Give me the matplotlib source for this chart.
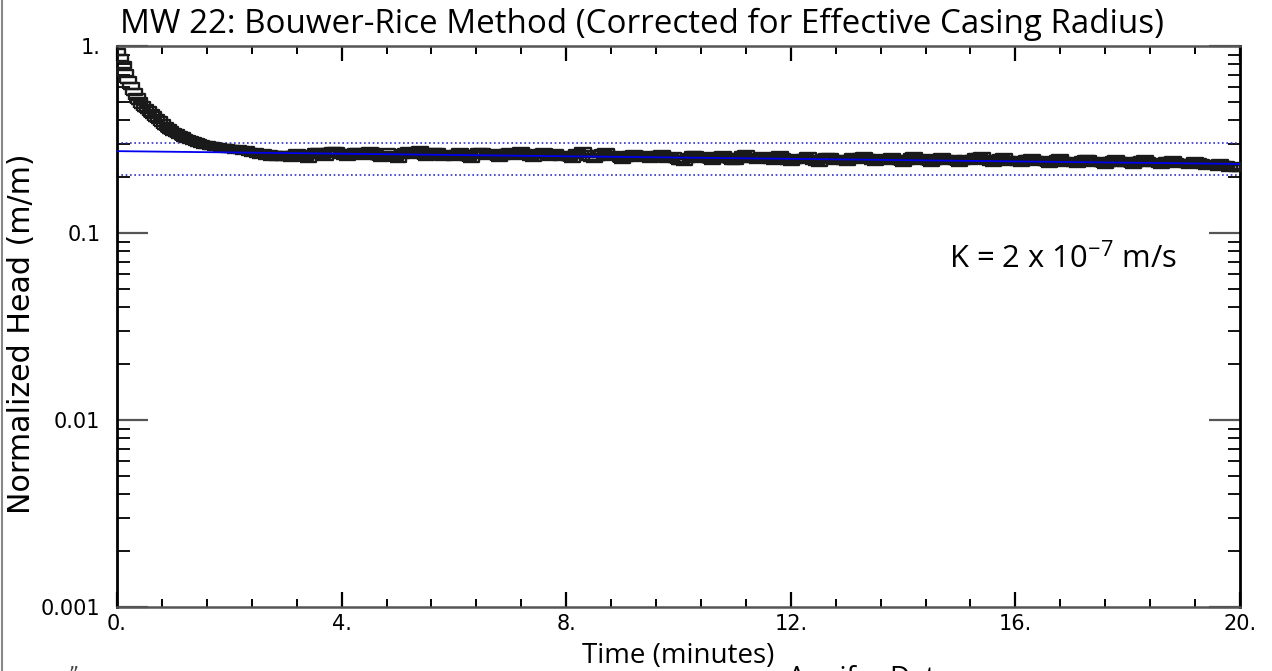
import matplotlib
matplotlib.use("Agg")
import matplotlib.pyplot as plt
from matplotlib.lines import Line2D
from matplotlib.ticker import MultipleLocator, LogLocator, NullFormatter
import numpy as np

# ---------------- data ----------------
# early record, sampled every 0.05 min (0.00 .. 2.95)
time_early = np.arange(60) * 0.05
head_early = [
    0.930, 0.860, 0.790, 0.720, 0.660, 0.610, 0.565, 0.535, 0.505, 0.485,
    0.465, 0.452, 0.440, 0.425, 0.410, 0.400, 0.386, 0.375, 0.365, 0.356,
    0.348, 0.341, 0.335, 0.330, 0.324, 0.319, 0.314, 0.309, 0.305, 0.302,
    0.299, 0.297, 0.295, 0.293, 0.291, 0.289, 0.287, 0.286, 0.285, 0.284,
    0.282, 0.280, 0.278, 0.281, 0.277, 0.274, 0.278, 0.272, 0.268, 0.271,
    0.266, 0.262, 0.268, 0.259, 0.264, 0.256, 0.262, 0.254, 0.261, 0.255,
]
# later record, sampled every 0.1 min (3.0 .. 20.0)
time_late = 3.0 + np.arange(171) * 0.1
head_late = [
    0.262, 0.252, 0.268, 0.258, 0.250, 0.266, 0.272, 0.256, 0.270, 0.276,
    0.262, 0.254, 0.268, 0.272, 0.258, 0.276, 0.266, 0.252, 0.270, 0.256,
    0.250, 0.268, 0.274, 0.262, 0.278, 0.256, 0.268, 0.272, 0.254, 0.266,
    0.256, 0.270, 0.262, 0.250, 0.266, 0.272, 0.258, 0.268, 0.252, 0.264,
    0.270, 0.258, 0.276, 0.262, 0.252, 0.266, 0.272, 0.256, 0.268, 0.254,
    0.262, 0.250, 0.268, 0.274, 0.256, 0.248, 0.264, 0.270, 0.254, 0.262,
    0.246, 0.258, 0.266, 0.252, 0.262, 0.248, 0.256, 0.264, 0.250, 0.258,
    0.244, 0.240, 0.256, 0.262, 0.250, 0.258, 0.244, 0.254, 0.262, 0.248,
    0.242, 0.256, 0.264, 0.250, 0.246, 0.258, 0.252, 0.242, 0.262, 0.248,
    0.240, 0.252, 0.246, 0.258, 0.244, 0.238, 0.252, 0.256, 0.242, 0.250,
    0.240, 0.254, 0.246, 0.258, 0.248, 0.240, 0.252, 0.244, 0.256, 0.246,
    0.238, 0.250, 0.258, 0.244, 0.252, 0.238, 0.246, 0.256, 0.242, 0.250,
    0.236, 0.248, 0.242, 0.254, 0.258, 0.244, 0.238, 0.250, 0.254, 0.240,
    0.246, 0.236, 0.248, 0.252, 0.240, 0.246, 0.234, 0.244, 0.252, 0.238,
    0.244, 0.234, 0.246, 0.250, 0.238, 0.244, 0.232, 0.242, 0.248, 0.236,
    0.242, 0.232, 0.244, 0.248, 0.236, 0.240, 0.230, 0.242, 0.246, 0.234,
    0.238, 0.230, 0.242, 0.236, 0.228, 0.234, 0.226, 0.232, 0.224, 0.228,
    0.222,
]
# intermediate readings, every 0.1 min (3.05 .. 19.95)
time_mid = 3.05 + np.arange(170) * 0.1
head_mid = [
    0.256, 0.262, 0.262, 0.254, 0.260, 0.270, 0.262, 0.264, 0.274, 0.268,
    0.258, 0.262, 0.270, 0.264, 0.268, 0.270, 0.258, 0.262, 0.262, 0.254,
    0.260, 0.272, 0.266, 0.270, 0.266, 0.262, 0.272, 0.262, 0.262, 0.260,
    0.264, 0.266, 0.256, 0.260, 0.270, 0.264, 0.264, 0.260, 0.258, 0.268,
    0.264, 0.268, 0.268, 0.256, 0.260, 0.268, 0.262, 0.262, 0.260, 0.258,
    0.256, 0.260, 0.264, 0.264, 0.252, 0.256, 0.268, 0.260, 0.258, 0.252,
    0.252, 0.262, 0.260, 0.258, 0.256, 0.252, 0.260, 0.258, 0.254, 0.250,
    0.242, 0.248, 0.260, 0.256, 0.254, 0.250, 0.250, 0.258, 0.254, 0.244,
    0.250, 0.260, 0.256, 0.248, 0.252, 0.256, 0.246, 0.252, 0.254, 0.244,
    0.246, 0.250, 0.252, 0.250, 0.240, 0.246, 0.254, 0.248, 0.246, 0.244,
    0.248, 0.250, 0.254, 0.252, 0.244, 0.246, 0.248, 0.250, 0.250, 0.242,
    0.244, 0.254, 0.250, 0.248, 0.244, 0.242, 0.250, 0.248, 0.246, 0.244,
    0.242, 0.246, 0.248, 0.256, 0.250, 0.240, 0.244, 0.252, 0.246, 0.242,
    0.240, 0.242, 0.250, 0.246, 0.242, 0.240, 0.240, 0.250, 0.244, 0.240,
    0.238, 0.240, 0.248, 0.244, 0.240, 0.236, 0.236, 0.246, 0.242, 0.238,
    0.236, 0.238, 0.246, 0.242, 0.238, 0.234, 0.236, 0.244, 0.240, 0.236,
    0.234, 0.236, 0.240, 0.232, 0.230, 0.230, 0.236, 0.230, 0.226, 0.224,
]
# fitted straight line (semi-log)
fit_time = [0.0, 20.0]
fit_head = [0.274, 0.234]
# reference bands
band_upper = 0.303
band_lower = 0.204

x_ticks = [0, 4, 8, 12, 16, 20]
x_tick_labels = ["0.", "4.", "8.", "12.", "16.", "20."]
y_ticks = [0.001, 0.01, 0.1, 1.0]
y_tick_labels = ["0.001", "0.01", "0.1", "1."]

title_text = "MW 22: Bouwer-Rice Method (Corrected for Effective Casing Radius)"
xlabel_text = "Time (minutes)"
ylabel_text = "Normalized Head (m/m)"
k_text = r"K = 2 x 10$^{\mathregular{-7}}$ m/s"
extra_text = "Aquifer Data"
corner_text = "\u201d"

# ---------------- figure ----------------
W, H = 1272, 671
fig = plt.figure(figsize=(W / 100, H / 100), dpi=100)
fig.patch.set_facecolor("white")

L, R, T, B = 117, 1240, 46, 607
ax = fig.add_axes([L / W, 1 - B / H, (R - L) / W, (B - T) / H])

rect = [(-1, -0.4), (1, -0.4), (1, 0.4), (-1, 0.4), (-1, -0.4)]
times = np.concatenate([time_early, time_late, time_mid])
heads = np.concatenate([head_early, head_late, head_mid])
order = np.argsort(times)
ax.plot(times[order], heads[order], linestyle="none", marker=rect, markersize=12,
        markerfacecolor="none", markeredgecolor="#1a1a1a", markeredgewidth=1.7,
        zorder=3)
ax.plot(fit_time, fit_head, color="#0000ee", linewidth=1.3, zorder=4)
ax.axhline(band_upper, color="#3030d0", linewidth=1.2, linestyle=(0, (1, 1.6)), zorder=2)
ax.axhline(band_lower, color="#3030d0", linewidth=1.2, linestyle=(0, (1, 1.6)), zorder=2)

ax.set_yscale("log")
ax.set_xlim(0, 20)
ax.set_ylim(0.001, 1)

ax.set_xticks(x_ticks)
ax.set_xticklabels(x_tick_labels)
ax.xaxis.set_minor_locator(MultipleLocator(0.8))
ax.set_yticks(y_ticks)
ax.set_yticklabels(y_tick_labels)
ax.yaxis.set_minor_locator(LogLocator(base=10, subs=np.arange(2, 10)))
ax.yaxis.set_minor_formatter(NullFormatter())

for lab in ax.get_xticklabels() + ax.get_yticklabels():
    lab.set_fontfamily("DejaVu Sans")
    lab.set_fontsize(15)

ax.tick_params(which="both", direction="in", top=True, right=True)
ax.tick_params(axis="x", which="major", length=11, width=1.6, color="black", pad=5)
ax.tick_params(axis="x", which="minor", length=6, width=1.4, color="black")
ax.tick_params(axis="y", which="major", length=22, width=1.6, color="#555555", pad=12)
ax.tick_params(axis="y", which="minor", length=9, width=1.3, color="black")

for side in ("left", "right"):
    ax.spines[side].set_color("black")
    ax.spines[side].set_linewidth(2.0)
for side in ("top", "bottom"):
    ax.spines[side].set_color("#555555")
    ax.spines[side].set_linewidth(1.8)

# ---------------- texts ----------------
calibri_like = ["Open Sans", "DejaVu Sans"]
t_title = fig.text(642 / W, 1 - 33 / H, title_text, ha="center", va="baseline",
                   family=calibri_like, fontsize=20, color="black")
t_ylab = fig.text(22 / W, 1 - 334 / H, ylabel_text, ha="center", va="center",
                  rotation=90, family="DejaVu Sans", fontsize=18, color="black")
t_xlab = fig.text(582 / W, 1 - 663 / H, xlabel_text, ha="left", va="baseline",
                  family=calibri_like, fontsize=18, color="black")
t_extra = fig.text(788 / W, 1 - 686 / H, extra_text, ha="left", va="baseline",
                   family=calibri_like, fontsize=18, color="black")
fig.text(68 / W, 1 - 680 / H, corner_text, ha="left", va="baseline",
         family="DejaVu Sans", fontsize=14, color="#444444")
plt.rcParams["mathtext.fontset"] = "custom"
plt.rcParams["mathtext.rm"] = "Open Sans"
t_k = fig.text(949 / W, 1 - 268 / H, k_text, ha="left", va="baseline",
               family=calibri_like, fontsize=20, color="black")

fig.add_artist(Line2D([2 / W, 2 / W], [0, 1], transform=fig.transFigure,
                      color="#888888", linewidth=1.5))

fig.canvas.draw()
renderer = fig.canvas.get_renderer()


def fit_width(txt, target, use_height=False):
    bb = txt.get_window_extent(renderer)
    cur = bb.height if use_height else bb.width
    txt.set_fontsize(txt.get_fontsize() * target / cur)


fit_width(t_title, 1042)
fit_width(t_ylab, 360, use_height=True)
fit_width(t_xlab, 193)
fit_width(t_k, 228)
t_extra.set_fontsize(t_xlab.get_fontsize())

fig.savefig("out.png", dpi=100, facecolor="white")
